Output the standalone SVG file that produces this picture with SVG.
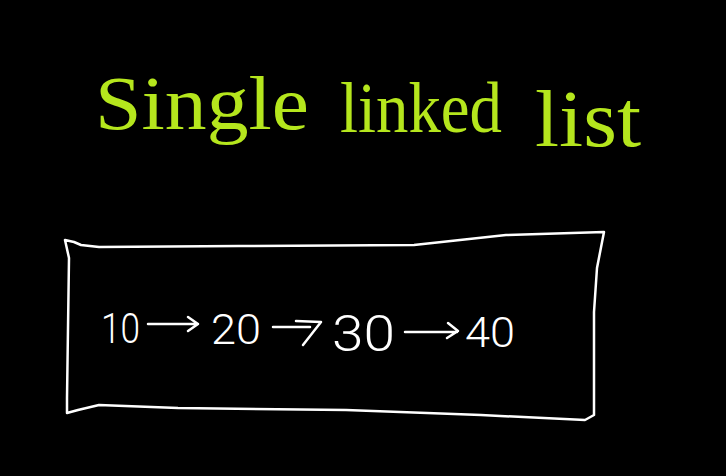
<svg xmlns="http://www.w3.org/2000/svg" width="726" height="476" viewBox="0 0 726 476">
<style>
.title{font-family:"Liberation Serif","DejaVu Serif",serif;font-size:76px;fill:#b5e61d}
.num{font-family:Roboto,"Liberation Sans",sans-serif;font-weight:300;font-size:43px;fill:#ffffff}
.ln{fill:none;stroke:#ffffff;stroke-width:2.5;stroke-linecap:round;stroke-linejoin:round}
</style>
<rect width="726" height="476" fill="#000000"/>
<g id="title">
<text class="title" x="95" y="129" textLength="214" lengthAdjust="spacingAndGlyphs">Single</text>
<text class="title" x="340" y="132" textLength="162" lengthAdjust="spacingAndGlyphs" style="font-size:72px">linked</text>
<text class="title" x="535" y="146" textLength="106" lengthAdjust="spacingAndGlyphs" style="font-size:80px">list</text>
</g>
<g id="box">
<path class="ln" d="M65,240 L74,242 L81,245 L99,247 L239,246 L414,245 L506,235 L604,232 L597,268 L594,312 L594,375 L594,415 L585,420 L481,415 L346,410 L178,408 L99,405 L78,410 L67,413 L67,398 L69,258 Z"/>
</g>
<g id="n10"><text class="num" x="101" y="343" textLength="39" lengthAdjust="spacingAndGlyphs">10</text></g>
<g id="n20"><text class="num" x="211" y="344" textLength="50" lengthAdjust="spacingAndGlyphs">20</text></g>
<g id="n30"><text class="num" x="332" y="351" textLength="63" lengthAdjust="spacingAndGlyphs" style="font-size:50px">30</text></g>
<g id="n40"><text class="num" x="465" y="347" textLength="50" lengthAdjust="spacingAndGlyphs">40</text></g>
<g id="connectors">
<path class="ln" d="M148,324 L198,324 M188,317 L198,324 L188,331"/>
<path class="ln" d="M273,327 L310,327 M296,321 L321,322 L303,345"/>
<path class="ln" d="M405,332 L457,332 M448,323 L458,331 L447,338"/>
</g>
</svg>
